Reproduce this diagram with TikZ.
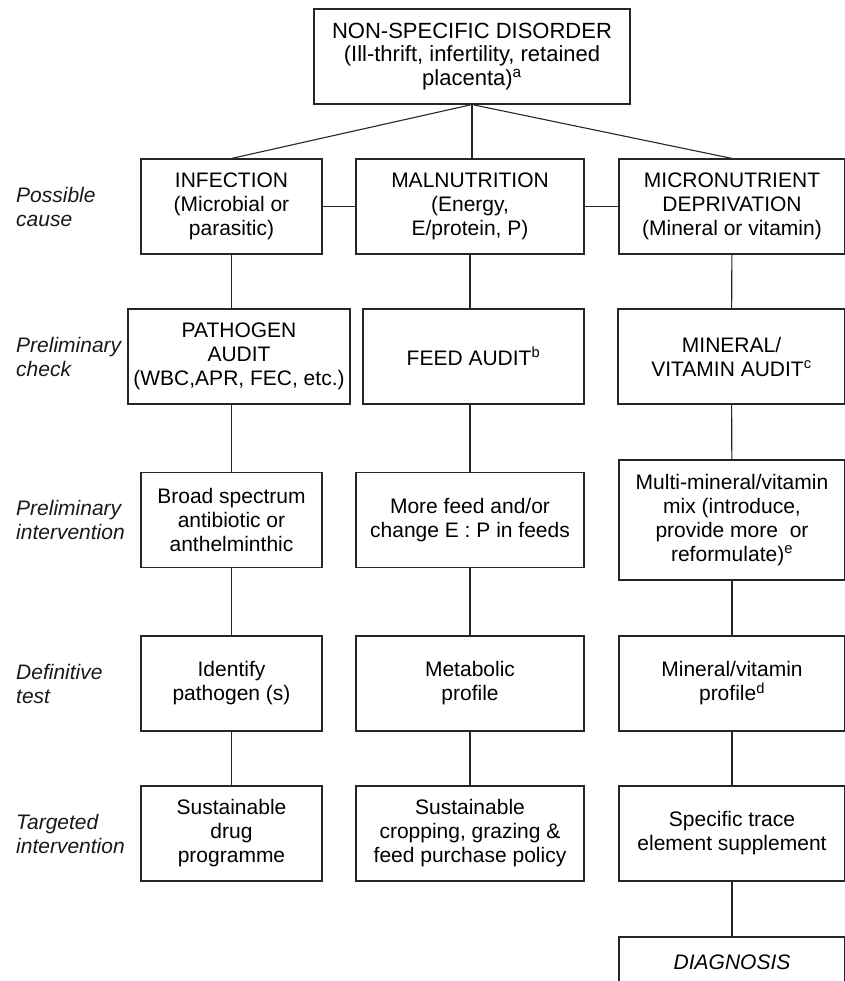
\documentclass[tikz,border=0pt]{standalone}
\usepackage{fontspec}
\setmainfont{Liberation Sans}
\usepackage{tikz}
\usetikzlibrary{positioning}

\begin{document}
\begin{tikzpicture}[
  x=1pt,y=-1pt,
  box/.style={draw=black!85,rectangle,line width=1.1pt,align=center,inner sep=0pt,font=\fontsize{21}{24}\selectfont},
  row/.style={box,minimum height=95pt},
  lbl/.style={anchor=west,align=left,inner sep=0pt,font=\fontsize{21}{24}\selectfont\itshape,text=black!90},
  link/.style={draw=black!85,line width=1.1pt}
]
\useasboundingbox (0,0) rectangle (844,981);

% top
\node[box,minimum width=316pt,minimum height=95pt,font=\fontsize{22}{23.5}\selectfont] (top) at (472,56.5) {NON-SPECIFIC DISORDER\\(Ill-thrift, infertility, retained\\placenta)\textsuperscript{a}};

% row labels
\node[lbl] (l1) at (16,206.5) {Possible\\cause};
\node[lbl] (l2) at (16,356.5) {Preliminary\\check};
\node[lbl] (l3) at (16,520) {Preliminary\\intervention};
\node[lbl] (l4) at (16,683.5) {Definitive\\test};
\node[lbl] (l5) at (16,833.5) {Targeted\\intervention};

% possible cause
\node[row,minimum width=181pt] (inf) at (231.5,206.5) {INFECTION\\(Microbial or\\parasitic)};
\node[row,minimum width=228pt] (mal) at (470,206.5) {MALNUTRITION\\(Energy,\\E/protein, P)};
\node[row,minimum width=226pt] (mic) at (732,206.5) {MICRONUTRIENT\\DEPRIVATION\\(Mineral or vitamin)};

% preliminary check
\node[row,minimum width=222pt] (path) at (239,356.5) {PATHOGEN\\AUDIT\\(WBC,APR, FEC, etc.)};
\node[row,minimum width=221pt] (feed) at (473.5,356.5) {FEED AUDIT\textsuperscript{b}};
\node[row,minimum width=227pt] (mina) at (731.5,356.5) {MINERAL/\\VITAMIN AUDIT\textsuperscript{c}};

% preliminary intervention
\node[row,minimum width=181pt] (anti) at (231.5,520) {Broad spectrum\\antibiotic or\\anthelminthic};
\node[row,minimum width=228pt] (more) at (470,520) {More feed and/or\\change E : P in feeds};
\node[box,minimum width=226pt,minimum height=120pt] (mix) at (732,520) {Multi-mineral/vitamin\\mix (introduce,\\provide more\ \ or\\reformulate)\textsuperscript{e}};

% definitive test
\node[row,minimum width=181pt] (ident) at (231.5,683.5) {Identify\\pathogen (s)};
\node[row,minimum width=228pt] (meta) at (470,683.5) {Metabolic\\profile};
\node[row,minimum width=226pt] (prof) at (732,683.5) {Mineral/vitamin\\profile\textsuperscript{d}};

% targeted intervention
\node[row,minimum width=181pt] (drug) at (231.5,833.5) {Sustainable\\drug\\programme};
\node[row,minimum width=228pt] (crop) at (470,833.5) {Sustainable\\cropping, grazing \&\\feed purchase policy};
\node[row,minimum width=226pt] (trace) at (732,833.5) {Specific trace\\element supplement};

% diagnosis
\node[box,minimum width=226pt,minimum height=50pt,font=\fontsize{21}{24}\selectfont\itshape] (diag) at (732,962) {DIAGNOSIS};

% links from top
\draw[link] (top.south) -- (inf.north);
\draw[link] (top.south) -- (top.south |- mal.north);
\draw[link] (top.south) -- (mic.north);
\draw[link] (inf.east) -- (mal.west);
\draw[link] (mal.east) -- (mic.west);

% left column
\draw[link] (inf.south) -- (inf.south |- path.north);
\draw[link] (inf.south |- path.south) -- (anti.north);
\draw[link] (anti) -- (ident);
\draw[link] (ident) -- (drug);

% middle column
\draw[link] (mal.south) -- (mal.south |- feed.north);
\draw[link] (mal.south |- feed.south) -- (more.north);
\draw[link] (more) -- (meta);
\draw[link] (meta) -- (crop);

% right column
\draw[link] (mic) -- (mina);
\draw[link] (mina) -- (mix);
\draw[link] (mix) -- (prof);
\draw[link] (prof) -- (trace);
\draw[link] (trace) -- (diag);

\end{tikzpicture}
\end{document}
